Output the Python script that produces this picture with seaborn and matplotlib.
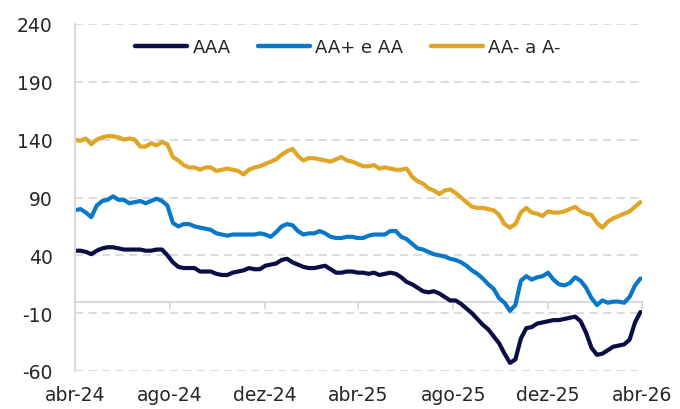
import numpy as np
import pandas as pd
import matplotlib
matplotlib.use("Agg")
import matplotlib.pyplot as plt
import matplotlib.dates as mdates
import seaborn as sns

# ---- data (weekly readings, bps) ----
dates = pd.date_range("2024-04-01", periods=105, freq="7D")

aaa = [44, 44, 43, 41, 44, 46, 47, 47, 46, 45,
       45, 45, 45, 44, 44, 45, 45, 40, 34, 30,
       29, 29, 29, 26, 26, 26, 24, 23, 23, 25,
       26, 27, 29, 28, 28, 31, 32, 33, 36, 37,
       34, 32, 30, 29, 29, 30, 31, 28, 25, 25,
       26, 26, 25, 25, 24, 25, 23, 24, 25, 24,
       21, 17, 15, 12, 9, 8, 9, 7, 4, 1,
       1, -2, -6, -10, -15, -20, -24, -30, -36, -45,
       -53, -50, -32, -23, -22, -19, -18, -17, -16, -16,
       -15, -14, -13, -17, -27, -40, -46, -45, -42, -39,
       -38, -37, -33, -18, -9]

aa_plus_aa = [79, 80, 77, 73, 83, 87, 88, 91, 88, 88,
              85, 86, 87, 85, 87, 89, 87, 83, 68, 65,
              67, 67, 65, 64, 63, 62, 59, 58, 57, 58,
              58, 58, 58, 58, 59, 58, 56, 60, 65, 67,
              66, 61, 58, 59, 59, 61, 59, 56, 55, 55,
              56, 56, 55, 55, 57, 58, 58, 58, 61, 61,
              56, 54, 50, 46, 45, 43, 41, 40, 39, 37,
              36, 34, 31, 27, 24, 20, 15, 11, 3, -1,
              -8, -3, 18, 22, 19, 21, 22, 25, 19, 15,
              14, 16, 21, 18, 12, 3, -3, 1, -1, 0,
              0, -1, 4, 14, 20]

aa_minus_a_minus = [140, 139, 141, 136, 140, 142, 143, 143, 142, 140,
                    141, 140, 134, 134, 137, 135, 138, 136, 125, 122,
                    118, 116, 116, 114, 116, 116, 113, 114, 115, 114,
                    113, 110, 114, 116, 117, 119, 121, 123, 127, 130,
                    132, 126, 122, 124, 124, 123, 122, 121, 123, 125,
                    122, 121, 119, 117, 117, 118, 115, 116, 115, 114,
                    114, 115, 108, 104, 102, 98, 96, 93, 96, 97,
                    94, 90, 86, 82, 81, 81, 80, 79, 75, 67,
                    64, 67, 77, 81, 77, 76, 74, 78, 77, 77,
                    78, 80, 82, 78, 76, 75, 68, 64, 69, 72,
                    74, 76, 78, 82, 86]

series_names = ["AAA", "AA+ e AA", "AA- a A-"]
colors = ["#0b0d45", "#0a78c6", "#e0a526"]
yticks = [-60, -10, 40, 90, 140, 190, 240]
xtick_dates = ["2024-04-01", "2024-08-01", "2024-12-01", "2025-04-01",
               "2025-08-01", "2025-12-01", "2026-04-01"]
xtick_labels = ["abr-24", "ago-24", "dez-24", "abr-25", "ago-25", "dez-25", "abr-26"]

df = pd.DataFrame({
    "date": np.tile(dates, 3),
    "value": aaa + aa_plus_aa + aa_minus_a_minus,
    "serie": np.repeat(series_names, len(dates)),
})

sns.set_style("white")
plt.rcParams["font.family"] = ["DejaVu Sans"]
plt.rcParams["axes.unicode_minus"] = False

fig = plt.figure(figsize=(6.8, 4.1), dpi=100)
ax = fig.add_axes([75 / 680, 38 / 410, 567 / 680, 347 / 410])

sns.lineplot(data=df, x="date", y="value", hue="serie", hue_order=series_names,
             palette=colors, linewidth=3.0, estimator=None, ax=ax)

grid_c = "#d9d9d9"
ax.set_ylim(yticks[0], yticks[-1])
ax.set_yticks(yticks)
xt = mdates.date2num(pd.to_datetime(xtick_dates))
ax.set_xlim(xt[0], xt[-1])
ax.set_xticks(xt)
ax.set_xticklabels(xtick_labels)
ax.set_xlabel("")
ax.set_ylabel("")
ax.tick_params(axis="x", length=0, pad=10, labelsize=13.5, colors="#262626")
ax.tick_params(axis="y", length=0, pad=16, labelsize=13.5, colors="#262626")
for s in ["top", "right", "bottom"]:
    ax.spines[s].set_visible(False)
ax.spines["left"].set_color(grid_c)
ax.spines["left"].set_linewidth(1.5)
ax.yaxis.grid(True, color=grid_c, linestyle=(0, (4.5, 3)), linewidth=1.3)
ax.xaxis.grid(False)
ax.set_axisbelow(True)

# zero axis line with tick marks
zero_frac = (0 - yticks[0]) / (yticks[-1] - yticks[0])
sec = ax.secondary_xaxis(zero_frac)
sec.set_xticks(xt)
sec.set_xticklabels([])
sec.tick_params(length=5, width=1.3, color=grid_c, direction="out")
for s in sec.spines.values():
    s.set_color(grid_c)
    s.set_linewidth(1.5)

handles, labels = ax.get_legend_handles_labels()
leg = ax.legend(handles, labels, loc="center", bbox_to_anchor=(0.481, 0.934),
                ncol=3, frameon=False, fontsize=13, handlelength=2.9,
                handletextpad=0.3, columnspacing=1.5)
for t in leg.get_texts():
    t.set_color("#262626")
for h in leg.legend_handles:
    h.set_linewidth(3.2)

fig.savefig("out.png", dpi=100)
